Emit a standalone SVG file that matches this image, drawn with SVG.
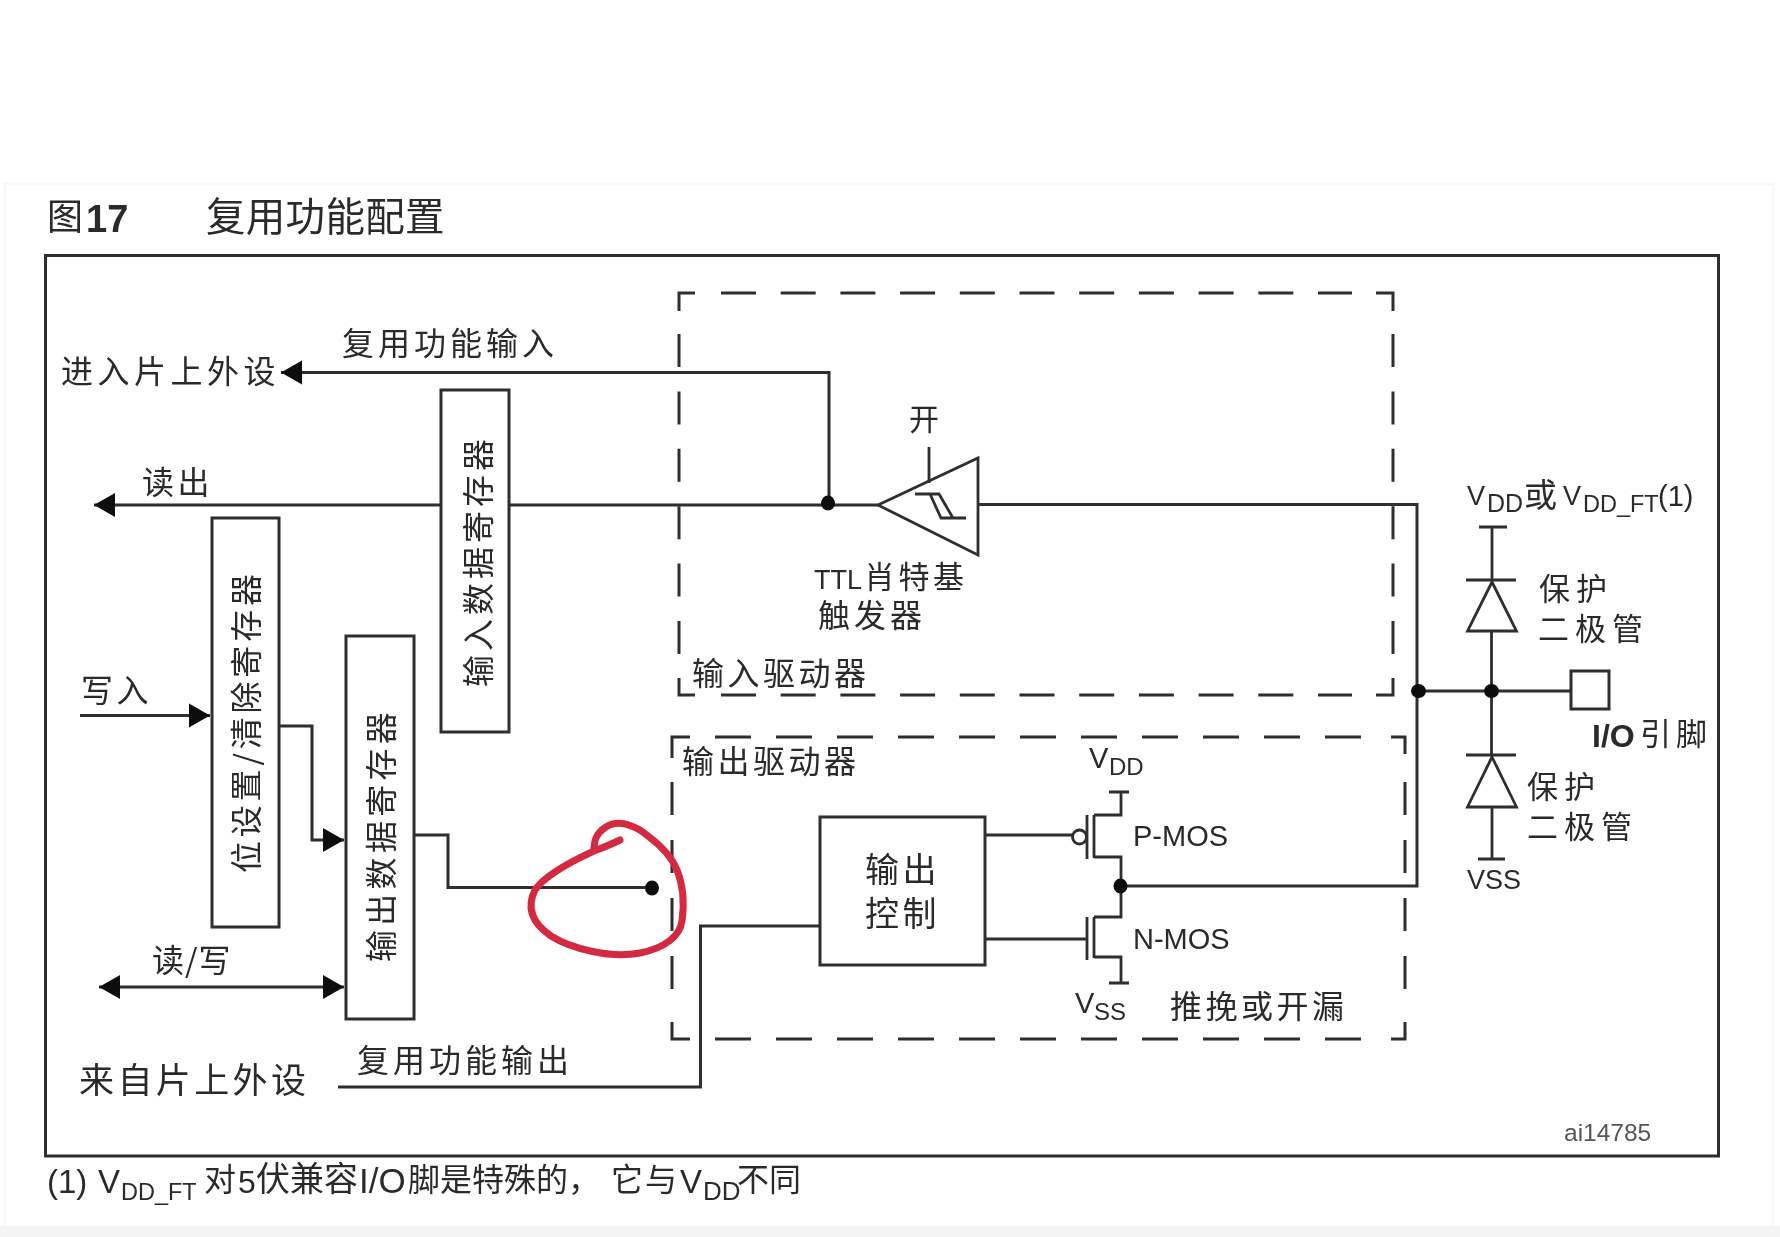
<svg xmlns="http://www.w3.org/2000/svg" width="1780" height="1237" viewBox="0 0 1780 1237">
<style>
text{fill:#2a2a2a;font-family:"Noto Sans CJK SC","Liberation Sans",sans-serif;font-size:32px;letter-spacing:3.500px}
.l{font-family:"Liberation Sans",sans-serif;letter-spacing:0;font-size:27px}
.s{font-family:"Liberation Sans",sans-serif;letter-spacing:0;font-size:22px}
.box{fill:#fff;stroke:#2e2e2e;stroke-width:3}
.w{fill:none;stroke:#2e2e2e;stroke-width:3}
.t{fill:none;stroke:#2e2e2e;stroke-width:2.800}
.dash{fill:none;stroke:#2e2e2e;stroke-width:3}
.dot{fill:#111}
</style>
<defs>
<marker id="arrow" markerUnits="userSpaceOnUse" markerWidth="22" markerHeight="26" refX="21" refY="13" orient="auto-start-reverse"><path d="M0 1L21 13L0 25Z" fill="#111"/></marker>
<filter id="soft" x="0" y="0" width="100%" height="100%" filterUnits="objectBoundingBox"><feGaussianBlur stdDeviation="0.500"/></filter>
</defs>
<rect width="1780" height="1237" fill="#fff"/>
<path d="M5 1237V184H1773V1237" fill="none" stroke="#f3f3f3" stroke-width="1.500"/>
<rect y="1226" width="1780" height="11" fill="#f4f4f4"/>
<g id="diagram" filter="url(#soft)">
<rect width="1780" height="1237" fill="none"/>
<g id="title">
<text x="47" y="230" style="font-size:36px;letter-spacing:0">图</text>
<text x="86" y="232" class="l" style="font-size:38px;font-weight:bold">17</text>
<text x="206" y="231" style="font-size:39.500px;letter-spacing:0.300px">复用功能配置</text>
</g>
<rect id="frame" x="45.500" y="255.500" width="1673" height="900.500" fill="none" stroke="#2e2e2e" stroke-width="3"/>
<g id="input-driver">
<path class="dash" d="M679 311V293H695M1376 293H1393V311M1393 678V695H1376M695 695H679V678"/>
<path class="dash" stroke-dasharray="35 24.700" d="M721 293H1352M721 695H1352"/>
<path class="dash" stroke-dasharray="33 24.400" d="M679 334V660M1393 334V660"/>
<text x="692" y="685">输入驱动器</text>
</g>
<g id="output-driver">
<path class="dash" d="M672 758V737H690M1391 737H1405V754M1405 1022V1039H1391M690 1039H672V1022"/>
<path class="dash" stroke-dasharray="36 25" d="M715 737H1372M715 1039H1372"/>
<path class="dash" stroke-dasharray="33 25" d="M672 782V1000M1405 782V1000"/>
<text x="682" y="773">输出驱动器</text>
</g>
<g id="connectors">
<path class="w" d="M829 503V372.500H281" marker-end="url(#arrow)"/>
<path class="w" d="M441 505H94" marker-end="url(#arrow)"/>
<path class="w" d="M508 505H878"/>
<path class="w" d="M978 504.500H1417V886H1121"/>
<path class="w" d="M80 715.500H210" marker-end="url(#arrow)"/>
<path class="w" d="M279 726H312V840H344" marker-end="url(#arrow)"/>
<path class="w" d="M99 987H344" marker-start="url(#arrow)" marker-end="url(#arrow)"/>
<path class="w" d="M413 835H448V887.500H652"/>
<path class="w" d="M338 1087H700.500V926H820"/>
<path class="w" d="M1417 691H1571"/>
</g>
<g id="input-data-register">
<rect class="box" x="441" y="390" width="68" height="342"/>
<text transform="translate(490,687) rotate(-90)" style="letter-spacing:4px">输入数据寄存器</text>
</g>
<g id="bit-set-clear-register">
<rect class="box" x="212" y="518" width="67" height="409"/>
<text transform="translate(258,873) rotate(-90)" style="letter-spacing:3.800px">位设置/清除寄存器</text>
</g>
<g id="output-data-register">
<rect class="box" x="346" y="636" width="68" height="383"/>
<text transform="translate(393,962) rotate(-90)" style="letter-spacing:4.300px">输出数据寄存器</text>
</g>
<g id="output-control">
<rect class="box" x="820" y="817" width="165" height="148"/>
<text style="font-size:34px"><tspan x="865" y="882">输出</tspan><tspan x="865" y="926">控制</tspan></text>
</g>
<g id="schmitt-trigger">
<path class="t" d="M878 505L978 458V555Z"/>
<path class="t" d="M929 447V483M915 494H939L953 518M930 494L941 518H966"/>
<text x="909" y="430" style="font-size:30px;letter-spacing:0">开</text>
<text style="font-size:31px;letter-spacing:3.500px"><tspan x="814" y="589" class="l" style="font-size:27px">TTL</tspan><tspan x="864" y="588">肖特基</tspan><tspan x="818" y="627" style="font-size:32px;letter-spacing:4px">触发器</tspan></text>
</g>
<g id="p-mos">
<path class="t" d="M986 835H1073"/>
<circle class="t" cx="1079.500" cy="837" r="7"/>
<path class="t" d="M1087 815V859M1094 815V858M1094 815H1121V792M1109 792H1129M1094 857H1121V886"/>
<text class="l" x="1089" y="768" style="font-size:29px">V<tspan class="s" x="1109" y="775" style="font-size:24px">DD</tspan></text>
<text class="l" x="1133" y="846" style="font-size:29px">P-MOS</text>
</g>
<g id="n-mos">
<path class="t" d="M985 939H1087"/>
<path class="t" d="M1087 917V960M1094 917V958M1121 886V917H1094M1094 957H1121V983M1109 983H1129"/>
<text class="l" x="1133" y="949" style="font-size:29px">N-MOS</text>
<text class="l" x="1075" y="1013" style="font-size:29px">V<tspan class="s" x="1094" y="1020" style="font-size:24px">SS</tspan></text>
<text x="1170" y="1018">推挽或开漏</text>
</g>
<g id="protection-diode-top">
<path class="t" d="M1479 527H1507M1492 527V580M1466 580H1516M1492 582L1516.500 631H1467.500ZM1491.500 631V691"/>
<text class="l" x="1467" y="505">V<tspan class="s" x="1487" y="512" style="font-size:25px">DD</tspan></text>
<text x="1524" y="507" style="letter-spacing:0;font-size:33px">或</text>
<text class="l" x="1563" y="505">V<tspan class="s" x="1583" y="512" style="font-size:23.500px">DD_FT</tspan><tspan x="1658" y="506" style="font-size:29px">(1)</tspan></text>
<text style="font-size:31px;letter-spacing:6px"><tspan x="1539" y="600">保护</tspan><tspan x="1538" y="640">二极管</tspan></text>
</g>
<g id="protection-diode-bottom">
<path class="t" d="M1491.500 691V755M1466 755H1516M1492 757L1516.500 807H1467.500ZM1492 807V859M1478 859H1505"/>
<text style="font-size:31px;letter-spacing:6px"><tspan x="1527" y="798">保护</tspan><tspan x="1527" y="838">二极管</tspan></text>
<text class="l" x="1467" y="889">VSS</text>
</g>
<g id="io-pin">
<rect class="box" x="1571" y="671" width="38" height="38"/>
<text class="l" x="1592" y="747" style="font-size:32px;font-weight:bold">I/O</text>
<text x="1640" y="745" style="font-size:31px;letter-spacing:5px">引脚</text>
</g>
<g id="labels">
<text x="342" y="355" style="letter-spacing:4px">复用功能输入</text>
<text x="61" y="383" style="letter-spacing:4.500px">进入片上外设</text>
<text x="142" y="494">读出</text>
<text x="81" y="702">写入</text>
<text x="152" y="972" style="letter-spacing:1px">读/写</text>
<text x="79" y="1093" style="font-size:35px;letter-spacing:3.400px">来自片上外设</text>
<text x="357" y="1072" style="letter-spacing:4px">复用功能输出</text>
<text class="l" x="1564" y="1141" style="font-size:24.500px;fill:#555">ai14785</text>
</g>
<g id="dots">
<ellipse class="dot" cx="828" cy="503" rx="7" ry="7.500"/>
<ellipse class="dot" cx="1120.500" cy="886" rx="7" ry="7.500"/>
<ellipse class="dot" cx="1418.500" cy="691" rx="7.500" ry="7"/>
<ellipse class="dot" cx="1491.500" cy="691" rx="7.500" ry="7"/>
<ellipse class="dot" cx="652" cy="888" rx="7" ry="7.500"/>
</g>
<g id="footnote">
<text class="l" x="47" y="1193" style="font-size:33px">(1)</text>
<text class="l" x="98" y="1193" style="font-size:33px">V<tspan class="s" x="121" y="1200" style="font-size:23.500px">DD_FT</tspan></text>
<text x="204" y="1191" style="letter-spacing:0">对</text>
<text class="l" x="238" y="1193" style="font-size:32px">5</text>
<text x="256" y="1191" style="letter-spacing:0;font-size:34px">伏兼容</text>
<text class="l" x="359" y="1193" style="font-size:35px">I/O</text>
<text x="408" y="1191" style="letter-spacing:0">脚是特殊的，</text>
<text x="611" y="1191" style="letter-spacing:2px">它与</text>
<text class="l" x="680" y="1193" style="font-size:33px">V<tspan class="s" x="703" y="1200" style="font-size:26px">DD</tspan></text>
<text x="737" y="1191" style="letter-spacing:0">不同</text>
</g>
<path id="red-annotation" d="M620 840C610 845 602 848 594 851C570 862 545 875 535 890C525 910 535 925 551 936C570 948 610 959 640 953C665 948 680 936 682 921C685 900 683 885 677 870C671 855 660 845 648 836C635 825 618 819 606 827C595 834 594 842 594 851" fill="none" stroke="#d32a41" stroke-width="7" stroke-linecap="round"/>
</g>
</svg>
